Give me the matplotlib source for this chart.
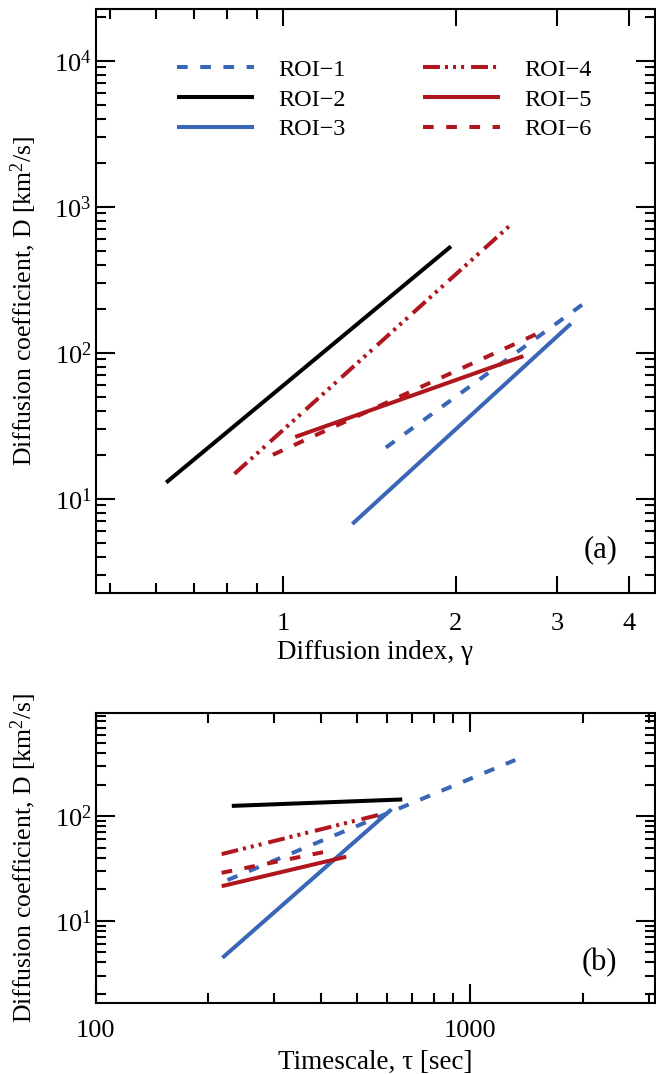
import matplotlib
matplotlib.use("Agg")
import matplotlib.pyplot as plt
from matplotlib.ticker import FixedLocator, NullFormatter, LogFormatterMathtext, FixedFormatter

# ---------------- data ----------------
roi_labels = ["ROI\u22121", "ROI\u22122", "ROI\u22123", "ROI\u22124", "ROI\u22125", "ROI\u22126"]

# panel (a): diffusion index gamma vs diffusion coefficient D (line endpoints)
gamma_start = [1.51, 0.626, 1.32, 0.823, 1.05, 0.96]
gamma_end = [3.32, 1.96, 3.17, 2.495, 2.62, 2.77]
Dg_start = [22.4, 12.9, 6.71, 14.8, 26.5, 20.0]
Dg_end = [214, 535, 158, 757, 94.8, 135]

# panel (b): timescale tau vs diffusion coefficient D (line endpoints)
tau_start = [225, 231, 218, 217, 217, 217]
tau_end = [1321, 659, 617, 579, 467, 410]
Dt_start = [24.5, 125, 4.43, 43.3, 21.4, 28.7]
Dt_end = [343, 144, 116, 104, 40.9, 45.6]

xa_major = [1, 2, 3, 4]
xa_major_labels = ["1", "2", "3", "4"]
xb_major = [100, 1000]
xb_major_labels = ["100", "1000"]

# ---------------- style ----------------
plt.rcParams["font.family"] = ["Liberation Serif", "DejaVu Serif"]
plt.rcParams["mathtext.fontset"] = "custom"
plt.rcParams["mathtext.rm"] = "Liberation Serif"
plt.rcParams["mathtext.it"] = "Liberation Serif:italic"
plt.rcParams["lines.scale_dashes"] = False

blue = "#3a66b8"
red = "#b0161e"
black = "#000000"
colors = [blue, black, blue, red, red, red]
dashed = (0, (7.7, 9.0))
dashdot3 = (0, (12.2, 3.6, 2.2, 3.6, 2.2, 3.6, 2.2, 5.0))
styles = [dashed, "-", "-", dashdot3, "-", dashed]
lw = 2.9

fs = 19
W, H = 656, 1074
fig = plt.figure(figsize=(W / 100, H / 100), dpi=100)

left = 95.7 / W
width = (655.0 - 95.7) / W
axa = fig.add_axes([left, 1 - 593.3 / H, width, (593.3 - 9.3) / H])
axb = fig.add_axes([left, 1 - 1003.3 / H, width, (1003.3 - 712.7) / H])


def style_axis(ax, xmajor_len, xpad):
    for s in ax.spines.values():
        s.set_linewidth(1.5)
    ax.tick_params(which="both", direction="in", top=True, right=True, width=1.5, labelsize=fs)
    ax.tick_params(axis="x", which="major", length=xmajor_len, pad=xpad)
    ax.tick_params(axis="y", which="major", length=14, pad=3)
    ax.tick_params(which="minor", length=7)


# panel (a)
for i in range(6):
    axa.plot([gamma_start[i], gamma_end[i]], [Dg_start[i], Dg_end[i]],
             color=colors[i], linestyle=styles[i], lw=lw,
             dash_capstyle="butt", solid_capstyle="butt", label=roi_labels[i])
axa.set_xscale("log")
axa.set_yscale("log")
axa.set_xlim(0.472, 4.44)
axa.set_ylim(2.25, 22500)
axa.xaxis.set_major_locator(FixedLocator(xa_major))
axa.xaxis.set_major_formatter(FixedFormatter(xa_major_labels))
axa.xaxis.set_minor_locator(FixedLocator([0.5, 0.6, 0.7, 0.8, 0.9]))
axa.xaxis.set_minor_formatter(NullFormatter())
axa.yaxis.set_major_formatter(LogFormatterMathtext())
style_axis(axa, 12.5, 14)
axa.set_xlabel("Diffusion index, \u03b3", fontsize=19.5, labelpad=4)
axa.set_ylabel("Diffusion coefficient, D [km$^{2}$/s]", fontsize=18.5, labelpad=11)
axa.text(0.903, 0.074, "(a)", transform=axa.transAxes, fontsize=22,
         ha="center", va="center")
leg = axa.legend(ncol=2, loc="upper left", bbox_to_anchor=(0.1446, 0.915),
                 frameon=False, fontsize=17.5, handlelength=3.17, handletextpad=1.0,
                 columnspacing=3.2, labelspacing=0.31, borderpad=0, borderaxespad=0)

# panel (b)
for i in range(6):
    axb.plot([tau_start[i], tau_end[i]], [Dt_start[i], Dt_end[i]],
             color=colors[i], linestyle=styles[i], lw=lw,
             dash_capstyle="butt", solid_capstyle="butt")
axb.set_xscale("log")
axb.set_yscale("log")
axb.set_xlim(100, 3120)
axb.set_ylim(1.63, 970)
axb.xaxis.set_major_locator(FixedLocator(xb_major))
axb.xaxis.set_major_formatter(FixedFormatter(xb_major_labels))
axb.xaxis.set_minor_locator(FixedLocator([200, 300, 400, 500, 600, 700, 800, 900, 2000, 3000]))
axb.xaxis.set_minor_formatter(NullFormatter())
axb.yaxis.set_major_formatter(LogFormatterMathtext())
style_axis(axb, 13.5, 12)
axb.set_xlabel("Timescale, \u03c4 [sec]", fontsize=19.5, labelpad=6)
axb.set_ylabel("Diffusion coefficient, D [km$^{2}$/s]", fontsize=18.5, labelpad=11)
axb.text(0.90, 0.139, "(b)", transform=axb.transAxes, fontsize=22,
         ha="center", va="center")

fig.savefig("out.png", dpi=100)
